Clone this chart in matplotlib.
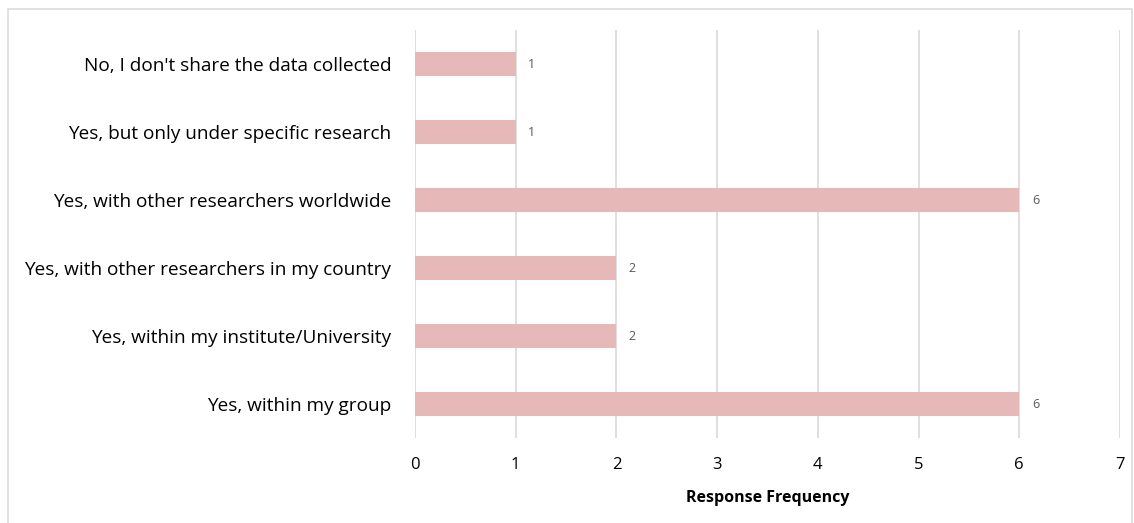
import matplotlib
matplotlib.use("Agg")
import matplotlib.pyplot as plt
from matplotlib.patches import Rectangle

plt.rcParams['font.family'] = ['Open Sans', 'DejaVu Sans']

categories = [
    "Yes, within my group",
    "Yes, within my institute/University",
    "Yes, with other researchers in my country",
    "Yes, with other researchers worldwide",
    "Yes, but only under specific research",
    "No, I don't share the data collected",
]
counts = [6, 2, 2, 6, 1, 1]
xticks = [0, 1, 2, 3, 4, 5, 6, 7]

bar_color = '#E6B8B7'
grid_color = '#DCDCDC'

fig = plt.figure(figsize=(11.34, 5.23), dpi=100)
ax = fig.add_axes([415 / 1134, 1 - 438 / 523, 705 / 1134, 408 / 523])

y = list(range(len(categories)))
ax.barh(y, counts, height=0.35, color=bar_color, zorder=3)

for yi, v in zip(y, counts):
    ax.annotate(str(v), (v, yi), xytext=(9, 0), textcoords='offset points',
                va='center', ha='left', fontsize=9, color='#595959')

ax.set_xlim(0, 7)
ax.set_ylim(-0.5, len(categories) - 0.5)
ax.set_xticks(xticks)
ax.set_xticklabels([str(t) for t in xticks], fontsize=12)
ax.set_yticks(y)
ax.set_yticklabels(categories, fontsize=13.7)
ax.tick_params(axis='both', length=0)
ax.tick_params(axis='x', pad=14)
ax.tick_params(axis='y', pad=17)
ax.grid(axis='x', color=grid_color, linewidth=1.3, zorder=0)
for s in ax.spines.values():
    s.set_visible(False)

ax.set_xlabel("Response Frequency", fontsize=11.5, fontweight='bold', labelpad=12)

# light border around the chart area
fig.patches.append(Rectangle((8 / 1134, -0.01), 1124 / 1134, 1 - 9 / 523 + 0.01,
                             transform=fig.transFigure, fill=False,
                             edgecolor=grid_color, linewidth=1.2))

fig.savefig("out.png", dpi=100)
